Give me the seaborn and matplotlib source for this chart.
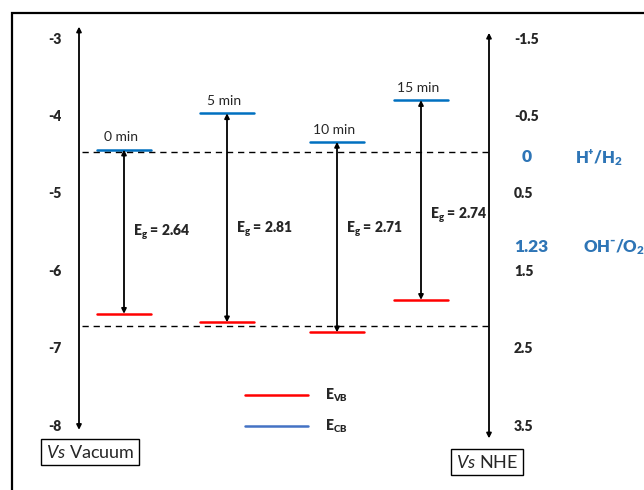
import numpy as np
import pandas as pd
import matplotlib
matplotlib.use("Agg")
import matplotlib.pyplot as plt
from matplotlib.lines import Line2D
import seaborn as sns

# Band positions (eV vs vacuum)
samples = ["0 min", "5 min", "10 min", "15 min"]
e_cb = [-4.43, -3.96, -4.33, -3.79]
e_vb = [-6.55, -6.66, -6.79, -6.37]
eg_labels = ["2.64", "2.81", "2.71", "2.74"]

# axis ticks
vac_ticks = [-3, -4, -5, -6, -7, -8]
nhe_ticks = [-1.5, -0.5, 0.5, 1.5, 2.5, 3.5]
redox_nhe = [0, 1.23]
redox_names = ["H⁺/H$_\\mathbf{2}$", "OH⁻/O$_\\mathbf{2}$"]
dashed_levels = [-4.46, -6.71]
nhe_offset = -4.5  # E(vac) = -4.5 - E(NHE)

sns.set_style("white")
plt.rcParams["font.family"] = ["Lato", "DejaVu Sans"]
plt.rcParams["mathtext.fontset"] = "custom"
plt.rcParams["mathtext.rm"] = "Lato"
plt.rcParams["mathtext.it"] = "Lato:italic"
plt.rcParams["mathtext.bf"] = "Lato:heavy"
BOLD = "heavy"

fig = plt.figure(figsize=(6.44, 4.90), dpi=100)
ax = fig.add_axes([0, 0, 1, 1])
# x in pixel-like layout units, y in eV vs vacuum
px_per_ev = 77.4
ax.set_xlim(0, 644)
ax.set_ylim(-3 - 451 / px_per_ev, -3 + 39 / px_per_ev)
ax.axis("off")

x_centers = [124, 227, 337, 421]
half_w = 27

# level segments drawn with seaborn
rows = []
for s, xc, cb, vb in zip(samples, x_centers, e_cb, e_vb):
    for xx in (xc - half_w, xc + half_w):
        rows.append({"sample": s, "x": xx, "E": cb, "band": "CB"})
        rows.append({"sample": s, "x": xx, "E": vb, "band": "VB"})
levels = pd.DataFrame(rows)
sns.lineplot(data=levels, x="x", y="E", hue="band", units="sample",
             estimator=None, palette={"CB": "#0070C0", "VB": "#FF0000"},
             lw=1.8, legend=False, ax=ax)

# dashed reference lines
for lv in dashed_levels:
    ax.plot([82, 488], [lv, lv], color="black", lw=1, dashes=(4.5, 3.5))

arrow_kw = dict(arrowstyle="<|-|>", color="black", lw=1.3,
                mutation_scale=7, shrinkA=0, shrinkB=0)

# band gap arrows and labels
eg_y = [-5.5, -5.46, -5.46, -5.28]
for s, xc, cb, vb, lab, ly in zip(samples, x_centers, e_cb, e_vb, eg_labels, eg_y):
    ax.annotate("", xy=(xc, cb), xytext=(xc, vb), arrowprops=arrow_kw)
    ax.text(xc - 3, cb + 0.08, s, ha="center", va="bottom", fontsize=10)
    ax.text(xc + 9, ly, "E$_\\mathbf{g}$ = " + lab, ha="left", va="center",
            fontsize=10, fontweight=BOLD)

# vacuum axis
ax.annotate("", xy=(79, vac_ticks[0] + 0.16), xytext=(79, vac_ticks[-1] - 0.05),
            arrowprops=arrow_kw)
for t in vac_ticks:
    ax.text(55, t, str(t), ha="center", va="center", fontsize=10, fontweight=BOLD)

# NHE axis
ax.annotate("", xy=(489, vac_ticks[0] + 0.08), xytext=(489, vac_ticks[-1] - 0.16),
            arrowprops=arrow_kw)
for t in nhe_ticks:
    ax.text(514, nhe_offset - t, f"{t:g}", ha="left",
            va="center", fontsize=10, fontweight=BOLD)

blue_txt = "#2E75B6"
for v, name, xv, xn in zip(redox_nhe, redox_names, [527, 531], [575, 583]):
    yv = nhe_offset - v - 0.03 + (0.07 if v else 0)
    ax.text(xv, yv, f"{v:g}", ha="center", va="center", fontsize=12.5,
            fontweight=BOLD, color=blue_txt)
    ax.text(xn, yv, name, ha="left", va="center", fontsize=12,
            fontweight=BOLD, color=blue_txt)

# legend
handles = [Line2D([], [], color="#FF0000", lw=1.8),
           Line2D([], [], color="#4472C4", lw=1.8)]
ax.legend(handles, ["E$_\\mathbf{VB}$", "E$_\\mathbf{CB}$"], loc="upper left",
          bbox_to_anchor=(232 / 644, 1 - 374 / 490), frameon=False,
          handlelength=4.6, handletextpad=1.2, labelspacing=1.0,
          prop={"weight": BOLD, "size": 10})

# scale boxes
box = dict(boxstyle="square,pad=0.25", fc="white", ec="black", lw=1)
ax.text(90, -3 - 413 / px_per_ev, "$\\mathit{Vs}$ Vacuum", ha="center", va="center",
        fontsize=13, bbox=box)
ax.text(487, -3 - 423 / px_per_ev, "$\\mathit{Vs}$ NHE", ha="center", va="center",
        fontsize=13, bbox=box)

# outer frame (left and top edges visible)
fig.add_artist(plt.Rectangle((12 / 644, -0.1), 1.2, 1 - 13 / 490 + 0.1,
                             transform=fig.transFigure, fill=False,
                             ec="black", lw=1.6))

fig.savefig("out.png", dpi=100)
